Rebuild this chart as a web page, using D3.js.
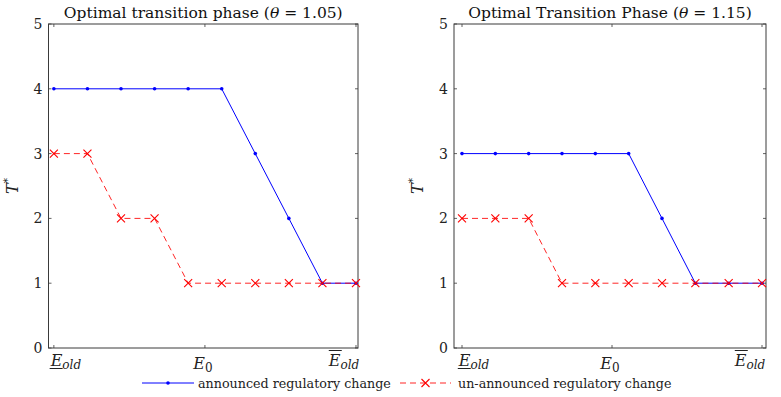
<!DOCTYPE html>
<html><head><meta charset="utf-8">
<script src="https://cdn.jsdelivr.net/npm/d3@7"></script>
<style>body{margin:0;background:#fff}svg{display:block}
text{font-family:"DejaVu Serif","Liberation Serif",serif;}</style>
</head><body>
<svg id="c" width="781" height="397"></svg>
<script>
const steps = [0,1,2,3,4,5,6,7,8,9];
const announced105 = [4,4,4,4,4,4,3,2,1,1];
const unannounced105 = [3,3,2,2,1,1,1,1,1,1];
const announced115 = [3,3,3,3,3,3,2,1,1,1];
const unannounced115 = [2,2,2,1,1,1,1,1,1,1];
const yTicks = [0,1,2,3,4,5];
const titles = ["Optimal transition phase (", "Optimal Transition Phase ("];
const thetas = ["1.05", "1.15"];
const legendLabels = ["announced regulatory change", "un-announced regulatory change"];

const svg = d3.select("#c");
const axisCol = "#3a3a3a";

const panels = [
  {x0:48.5, x1:358, blue:announced105, red:unannounced105, title:titles[0], theta:thetas[0], dom:[-0.16,9.06]},
  {x0:454, x1:766, blue:announced115, red:unannounced115, title:titles[1], theta:thetas[1], dom:[-0.24,9.12]}
];
const yTop = 24, yBot = 348;

panels.forEach(p => {
  const x = d3.scaleLinear().domain(p.dom).range([p.x0, p.x1]);
  const y = d3.scaleLinear().domain([0,5]).range([yBot, yTop]);
  const g = svg.append("g");

  yTicks.forEach(t => {
    g.append("line").attr("x1", p.x0).attr("x2", p.x0+3).attr("y1", y(t)).attr("y2", y(t)).attr("stroke", axisCol).attr("stroke-width",0.8);
    g.append("line").attr("x1", p.x1).attr("x2", p.x1-3).attr("y1", y(t)).attr("y2", y(t)).attr("stroke", axisCol).attr("stroke-width",0.8);
    g.append("text").attr("x", p.x0-6).attr("y", y(t)+5).attr("text-anchor","end")
      .attr("font-size", 14).attr("fill","#222").text(t);
  });
  const xt = [0, 4.5, 9];
  xt.forEach(t => {
    g.append("line").attr("x1", x(t)).attr("x2", x(t)).attr("y1", yBot).attr("y2", yBot-3).attr("stroke", axisCol).attr("stroke-width",0.8);
    g.append("line").attr("x1", x(t)).attr("x2", x(t)).attr("y1", yTop).attr("y2", yTop+3).attr("stroke", axisCol).attr("stroke-width",0.8);
  });
  g.append("rect").attr("x", p.x0).attr("y", yTop).attr("width", p.x1-p.x0).attr("height", yBot-yTop)
    .attr("fill","none").attr("stroke", axisCol).attr("stroke-width",1);

  const mkE = (cx, kind) => {
    const t = g.append("text").attr("x", cx).attr("y", 366).attr("text-anchor","middle")
      .attr("font-size", 16).attr("fill","#222");
    t.append("tspan").attr("font-style","italic").text("E");
    if (kind === "0") {
      t.append("tspan").attr("font-size", 12).attr("dy", 3).text("0");
    } else {
      t.append("tspan").attr("font-style","italic").attr("font-size", 12).attr("dy", 3).text("old");
    }
    return t;
  };
  const t1 = mkE(x(0)+12, "old");
  const t2 = mkE(x(4.5)-2, "0");
  t2.attr("y", 369);
  const t3 = mkE(x(9)-12, "old");
  const b1 = t1.node().getBBox();
  g.append("line").attr("x1", b1.x).attr("x2", b1.x+13).attr("y1", 368.5).attr("y2", 368.5).attr("stroke","#222").attr("stroke-width",1);
  const b3 = t3.node().getBBox();
  g.append("line").attr("x1", b3.x+1).attr("x2", b3.x+14).attr("y1", 350.5).attr("y2", 350.5).attr("stroke","#222").attr("stroke-width",1);

  const yl = g.append("text").attr("transform", `translate(${p.x0-31},${(yTop+yBot)/2}) rotate(-90)`)
    .attr("text-anchor","middle").attr("font-size", 16).attr("fill","#222");
  yl.append("tspan").attr("font-style","italic").text("T");
  yl.append("tspan").attr("font-size", 11).attr("dy", -7).text("*");

  const tt = g.append("text").attr("x", (p.x0+p.x1)/2).attr("y", 18).attr("text-anchor","middle")
    .attr("font-size", 15.5).attr("fill","#111");
  tt.append("tspan").text(p.title);
  tt.append("tspan").attr("font-style","italic").text("θ");
  tt.append("tspan").text(" = " + p.theta + ")");

  const line = d3.line().x((d,i) => x(steps[i])).y(d => y(d));
  g.append("path").datum(p.blue).attr("d", line).attr("fill","none").attr("stroke","#0000ff").attr("stroke-width",1);
  g.selectAll(".bd").data(p.blue).enter().append("circle")
    .attr("cx",(d,i)=>x(steps[i])).attr("cy",d=>y(d)).attr("r",1.8).attr("fill","#0000ff");
  g.append("path").datum(p.red).attr("d", line).attr("fill","none").attr("stroke","#ff0000").attr("stroke-width",1)
    .attr("stroke-dasharray","6,4").attr("opacity",0.85);
  const s = 4;
  p.red.forEach((d,i) => {
    const cx = x(steps[i]), cy = y(d);
    g.append("path").attr("d", `M${cx-s},${cy-s}L${cx+s},${cy+s}M${cx-s},${cy+s}L${cx+s},${cy-s}`)
      .attr("stroke","#ff0000").attr("stroke-width",1.1).attr("fill","none");
  });
});

const lg = svg.append("g");
const ly = 383;
lg.append("line").attr("x1",142).attr("x2",194).attr("y1",ly).attr("y2",ly).attr("stroke","#0000ff").attr("stroke-width",1);
lg.append("circle").attr("cx",168).attr("cy",ly).attr("r",1.8).attr("fill","#0000ff");
lg.append("text").attr("x",198).attr("y",ly+4.5).attr("font-size",12.7).attr("fill","#222").text(legendLabels[0]);
lg.append("line").attr("x1",400).attr("x2",451).attr("y1",ly).attr("y2",ly).attr("stroke","#ff0000").attr("stroke-width",1).attr("stroke-dasharray","6,4").attr("opacity",0.85);
lg.append("path").attr("d",`M${425.5-4},${ly-4}L${425.5+4},${ly+4}M${425.5-4},${ly+4}L${425.5+4},${ly-4}`).attr("stroke","#ff0000").attr("stroke-width",1.1);
lg.append("text").attr("x",458).attr("y",ly+4.5).attr("font-size",12.7).attr("fill","#222").text(legendLabels[1]);
</script>
</body></html>
